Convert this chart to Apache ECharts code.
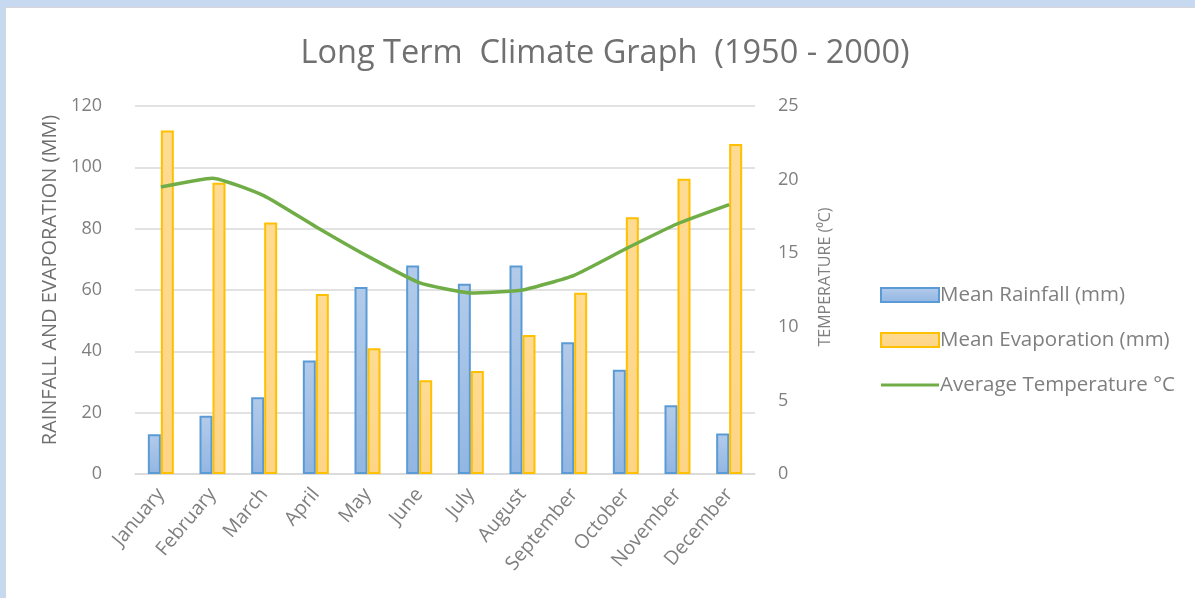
<!DOCTYPE html>
<html>
<head>
<meta charset="utf-8">
<script src="https://cdn.jsdelivr.net/npm/echarts@6/dist/echarts.min.js"></script>
<style>
  html, body { margin: 0; padding: 0; background: #ffffff; }
  #chart { width: 1195px; height: 598px; }
</style>
</head>
<body>
<div id="chart"></div>
<script>
// Monthly climate figures, 1950 - 2000
const months = ['January', 'February', 'March', 'April', 'May', 'June',
                'July', 'August', 'September', 'October', 'November', 'December'];
const meanRainfall = [13, 19, 25, 37, 61, 68, 62, 68, 43, 34, 22.4, 13.2];
const meanEvaporation = [112, 95, 82, 58.7, 41, 30.6, 33.6, 45.3, 59.1, 83.7, 96.3, 107.6];
const avgTemperature = [19.5, 20.1, 18.9, 16.8, 14.8, 13.0, 12.3, 12.5, 13.5, 15.3, 17.0, 18.3];
const rainTicks = [0, 20, 40, 60, 80, 100, 120];
const tempTicks = [0, 5, 10, 15, 20, 25];

const FONT = 'Open Sans';
const GREY = '#7f7f7f';

const chart = echarts.init(document.getElementById('chart'), null, { renderer: 'canvas' });

chart.setOption({
  backgroundColor: '#ffffff',
  animation: false,
  textStyle: { fontFamily: FONT },
  title: {
    text: 'Long Term  Climate Graph  (1950 - 2000)',
    left: 600,
    top: 32,
    textAlign: 'center',
    textStyle: { fontFamily: FONT, fontSize: 32.5, fontWeight: 'normal', color: '#707070' }
  },
  graphic: [
    // window frame along the top and left edges
    { type: 'rect', shape: { x: 0, y: 0, width: 1195, height: 7 }, style: { fill: '#c6d9f0' }, silent: true },
    { type: 'rect', shape: { x: 0, y: 7, width: 1195, height: 1 }, style: { fill: '#d6d6d6' }, silent: true },
    { type: 'rect', shape: { x: 0, y: 0, width: 5, height: 598 }, style: { fill: '#c6d9f0' }, silent: true },
    { type: 'rect', shape: { x: 5, y: 7, width: 1, height: 591 }, style: { fill: '#d6d6d6' }, silent: true }
  ],
  legend: {
    orient: 'vertical',
    left: 880,
    top: 283,
    padding: 0,
    itemWidth: 58,
    itemHeight: 14,
    itemGap: 21,
    textStyle: { fontFamily: FONT, fontSize: 20.5, lineHeight: 24, color: GREY, padding: [0, 0, 0, -4] },
    data: [
      { name: 'Mean Rainfall (mm)', icon: 'rect' },
      { name: 'Mean Evaporation (mm)', icon: 'rect' },
      { name: 'Average Temperature °C', icon: 'path://M0,0H58V3H0Z' }
    ]
  },
  grid: { left: 135, right: 440, top: 106, bottom: 124, containLabel: false },
  xAxis: {
    type: 'category',
    data: months,
    axisLine: { lineStyle: { color: '#d9d9d9', width: 1.5 } },
    axisTick: { show: false },
    axisLabel: { rotate: 50, margin: 17, fontSize: 19.5, color: GREY, fontFamily: FONT, interval: 0 }
  },
  yAxis: [
    {
      type: 'value',
      min: rainTicks[0],
      max: rainTicks[rainTicks.length - 1],
      interval: rainTicks[1] - rainTicks[0],
      name: 'RAINFALL AND EVAPORATION (MM)',
      nameLocation: 'middle',
      nameGap: 60,
      nameTextStyle: { fontFamily: FONT, fontSize: 20, color: '#6f6f6f', padding: [0, 0, 0, 20] },
      axisLine: { show: false },
      axisTick: { show: false },
      axisLabel: { margin: 33, fontSize: 18, color: GREY, fontFamily: FONT },
      splitLine: { lineStyle: { color: '#d9d9d9', width: 1.5 } }
    },
    {
      type: 'value',
      min: tempTicks[0],
      max: tempTicks[tempTicks.length - 1],
      interval: tempTicks[1] - tempTicks[0],
      name: 'TEMPERATURE (⁰C)',
      nameLocation: 'middle',
      nameGap: 62,
      nameTextStyle: { fontFamily: FONT, fontSize: 16, color: GREY, padding: [0, 0, 0, 26] },
      axisLine: { show: false },
      axisTick: { show: false },
      axisLabel: { margin: 23, fontSize: 18, color: GREY, fontFamily: FONT },
      splitLine: { show: false }
    }
  ],
  series: [
    {
      name: 'Mean Rainfall (mm)',
      type: 'bar',
      yAxisIndex: 0,
      data: meanRainfall,
      barWidth: 13,
      barGap: '0%',
      itemStyle: {
        color: new echarts.graphic.LinearGradient(0, 0, 0, 1, [
          { offset: 0, color: '#b3cbea' },
          { offset: 1, color: '#92b6e2' }
        ]),
        borderColor: '#5b9bd5',
        borderWidth: 2
      }
    },
    {
      name: 'Mean Evaporation (mm)',
      type: 'bar',
      yAxisIndex: 0,
      data: meanEvaporation,
      barWidth: 13,
      barGap: '0%',
      itemStyle: {
        color: new echarts.graphic.LinearGradient(0, 0, 0, 1, [
          { offset: 0, color: '#fedb93' },
          { offset: 1, color: '#fed587' }
        ]),
        borderColor: '#ffc000',
        borderWidth: 2
      }
    },
    {
      name: 'Average Temperature °C',
      type: 'line',
      yAxisIndex: 1,
      data: avgTemperature,
      symbol: 'none',
      smooth: 0.15,
      lineStyle: { color: '#70ad47', width: 3.5 },
      itemStyle: { color: '#70ad47' },
      z: 5
    }
  ]
});
</script>
</body>
</html>
